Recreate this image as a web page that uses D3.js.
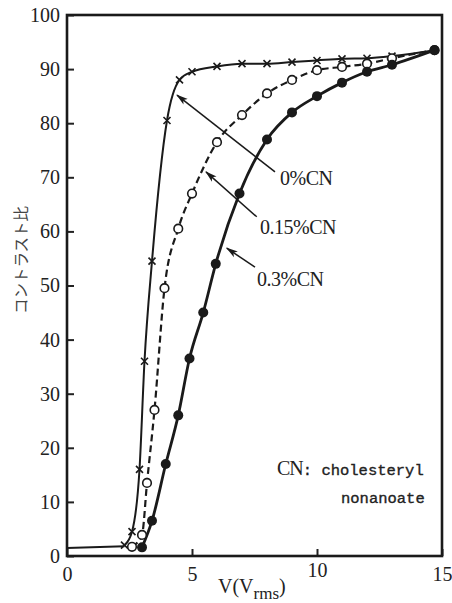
<!DOCTYPE html>
<html>
<head>
<meta charset="utf-8">
<script src="https://cdn.jsdelivr.net/npm/d3@7"></script>
<style>
  html, body { margin: 0; padding: 0; background: #fff; }
  svg { display: block; }
</style>
</head>
<body>
<svg id="mainFrame"></svg>
<script>
// 0% CN (x marks, thin solid line)
const v0 = [2.3, 2.6, 2.9, 3.1, 3.4, 4.0, 4.5, 5.0, 6.0, 7.0, 8.0, 9.0, 10.0, 11.0, 12.0, 13.0, 14.7];
const c0 = [2, 4.5, 16, 36, 54.5, 80.5, 88, 89.5, 90.5, 91, 91, 91.3, 91.6, 91.9, 92, 92.4, 93.5];
// flat start of the curves, below threshold
const baseV = [0, 2.3];
const baseC = [1.5, 1.8];
// 0.15% CN (open circles, dashed line)
const v15 = [2.6, 3.0, 3.2, 3.5, 3.9, 4.45, 5.0, 6.0, 7.0, 8.0, 9.0, 10.0, 11.0, 12.0, 13.0, 14.7];
const c15 = [1.7, 3.9, 13.5, 27, 49.5, 60.5, 67, 76.5, 81.5, 85.5, 88, 89.8, 90.4, 91, 92, 93.5];
// 0.3% CN (filled circles, thick solid line)
const v30 = [3.0, 3.4, 3.95, 4.45, 4.9, 5.45, 5.95, 6.9, 8.0, 9.0, 10.0, 11.0, 12.0, 13.0, 14.7];
const c30 = [1.6, 6.5, 17, 26, 36.5, 45, 54, 67, 77, 82, 85, 87.5, 89.5, 90.8, 93.5];

const xTicks = [0, 5, 10, 15];
const yTicks = [0, 10, 20, 30, 40, 50, 60, 70, 80, 90, 100];
const seriesNames = ["0%CN", "0.15%CN", "0.3%CN"];

const width = 452, height = 603;
const margin = {top: 15, right: 10, bottom: 47, left: 67};

const svg = d3.select("#mainFrame")
    .attr("width", width)
    .attr("height", height)
    .attr("font-family", "'Liberation Serif', serif");

const x = d3.scaleLinear().domain([0, 15]).range([margin.left, width - margin.right]);
const y = d3.scaleLinear().domain([0, 100]).range([height - margin.bottom, margin.top]);

const toPts = (vs, cs) => vs.map((v, i) => ({v: v, c: cs[i]}));

// axes, ticks pointing inward
const yAxis = svg.append("g")
    .attr("transform", `translate(${margin.left},0)`)
    .call(d3.axisLeft(y).tickValues(yTicks).tickSize(-7).tickPadding(7));
yAxis.select(".domain").remove();
yAxis.selectAll("line").attr("stroke", "#222").attr("stroke-width", 2);
yAxis.selectAll("text").attr("font-size", 20).attr("fill", "#222")
    .attr("font-family", "'Liberation Serif', serif");

const xAxis = svg.append("g")
    .attr("transform", `translate(0,${y(0)})`)
    .call(d3.axisBottom(x).tickValues(xTicks).tickSize(-7).tickPadding(11));
xAxis.select(".domain").remove();
xAxis.selectAll("line").attr("stroke", "#222").attr("stroke-width", 2);
xAxis.selectAll("text").attr("font-size", 20).attr("fill", "#222")
    .attr("font-family", "'Liberation Serif', serif")
    .attr("dy", d => d === 10 ? "0.5em" : "0.71em");

// frame
svg.append("rect")
    .attr("x", x(0)).attr("y", y(100))
    .attr("width", x(15) - x(0)).attr("height", y(0) - y(100))
    .attr("fill", "none").attr("stroke", "#1a1a1a").attr("stroke-width", 2.6);

// curves
const line = d3.line().x(d => x(d.v)).y(d => y(d.c)).curve(d3.curveMonotoneX);

svg.append("path")
    .datum(toPts(baseV, baseC))
    .attr("d", line)
    .attr("fill", "none").attr("stroke", "#1a1a1a").attr("stroke-width", 2);

svg.append("path")
    .datum(toPts(v0, c0))
    .attr("d", line)
    .attr("fill", "none").attr("stroke", "#1a1a1a").attr("stroke-width", 2);

svg.append("path")
    .datum(toPts(v15, c15))
    .attr("d", line)
    .attr("fill", "none").attr("stroke", "#1a1a1a").attr("stroke-width", 2.2)
    .attr("stroke-dasharray", "7,4");

svg.append("path")
    .datum(toPts(v30, c30))
    .attr("d", line)
    .attr("fill", "none").attr("stroke", "#1a1a1a").attr("stroke-width", 2.8);

// markers
svg.append("g").selectAll("path")
    .data(toPts(v0, c0))
    .join("path")
    .attr("transform", d => `translate(${x(d.v)},${y(d.c)})`)
    .attr("d", "M-3.5,-3.5L3.5,3.5M-3.5,3.5L3.5,-3.5")
    .attr("stroke", "#1a1a1a").attr("stroke-width", 1.6);

svg.append("g").selectAll("circle")
    .data(toPts(v15, c15))
    .join("circle")
    .attr("cx", d => x(d.v)).attr("cy", d => y(d.c))
    .attr("r", 4.3)
    .attr("fill", "#fff").attr("stroke", "#1a1a1a").attr("stroke-width", 1.6);

svg.append("g").selectAll("circle")
    .data(toPts(v30, c30))
    .join("circle")
    .attr("cx", d => x(d.v)).attr("cy", d => y(d.c))
    .attr("r", 5)
    .attr("fill", "#1a1a1a");

// annotation arrows
svg.append("defs").append("marker")
    .attr("id", "head")
    .attr("viewBox", "0 0 12 8")
    .attr("refX", 11).attr("refY", 4)
    .attr("markerWidth", 12).attr("markerHeight", 8)
    .attr("markerUnits", "userSpaceOnUse")
    .attr("orient", "auto")
    .append("path")
    .attr("d", "M0,0.5L12,4L0,7.5L3,4Z")
    .attr("fill", "#1a1a1a");

const notes = [
    {name: seriesNames[0], from: [8.32, 71], to: [4.4, 85.2], tx: 8.52, ty: 68.6},
    {name: seriesNames[1], from: [7.59, 62.7], to: [5.56, 71], tx: 7.72, ty: 59.6},
    {name: seriesNames[2], from: [7.52, 53.4], to: [6.39, 56.9], tx: 7.6, ty: 50}
];

const note = svg.append("g").selectAll("g").data(notes).join("g");
note.append("line")
    .attr("x1", d => x(d.from[0])).attr("y1", d => y(d.from[1]))
    .attr("x2", d => x(d.to[0])).attr("y2", d => y(d.to[1]))
    .attr("stroke", "#1a1a1a").attr("stroke-width", 1.5)
    .attr("marker-end", "url(#head)");
note.append("text")
    .attr("x", d => x(d.tx)).attr("y", d => y(d.ty))
    .attr("font-size", 20).attr("fill", "#222")
    .attr("letter-spacing", -0.5)
    .text(d => d.name);

// CN note
const cn = svg.append("text")
    .attr("x", 277).attr("y", 475)
    .attr("fill", "#222");
cn.append("tspan").attr("font-size", 20).attr("letter-spacing", -1).text("CN");
cn.append("tspan").attr("font-size", 15.5)
    .attr("stroke", "#222").attr("stroke-width", 0.35)
    .attr("font-family", "'Liberation Mono', monospace").text(": cholesteryl");
svg.append("text")
    .attr("x", 341).attr("y", 503)
    .attr("font-size", 15.5).attr("fill", "#222")
    .attr("stroke", "#222").attr("stroke-width", 0.35)
    .attr("font-family", "'Liberation Mono', monospace")
    .text("nonanoate");

// axis titles
const xt = svg.append("text")
    .attr("x", 218).attr("y", 593)
    .attr("font-size", 20).attr("fill", "#222");
xt.append("tspan").text("V(V");
xt.append("tspan").attr("dy", 6).attr("font-size", 17).text("rms");
xt.append("tspan").attr("dy", -6).text(")");

svg.append("text")
    .attr("transform", "translate(27,260) rotate(-90)")
    .attr("text-anchor", "middle")
    .attr("font-size", 15.5).attr("fill", "#444")
    .attr("font-family", "'Noto Sans CJK JP', sans-serif")
    .text("コントラスト比");
</script>
</body>
</html>
